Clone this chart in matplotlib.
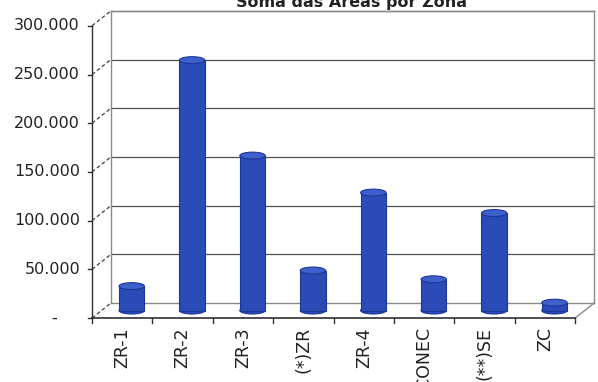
import matplotlib.pyplot as plt
from matplotlib.patches import Ellipse

zonas = ["ZR-1", "ZR-2", "ZR-3", "(*)ZR", "ZR-4", "CONEC", "(**)SE", "ZC"]
valores = [25000, 257000, 159000, 41000, 121000, 32000, 100000, 8000]
yticks = [0, 50000, 100000, 150000, 200000, 250000, 300000]
titulo = "Soma das Áreas por Zona"

W, H = 598, 382
PX_X = 60.4        # pixels per category
PX_Y = 0.000974    # pixels per unit of value
X0, Y0 = 92, 318   # front-left-bottom corner in pixels
DX, DY = 19 / PX_X, 15 / PX_Y   # depth of the pseudo 3D box
YMAX = yticks[-1]
n = len(zonas)

fig = plt.figure(figsize=(W / 100, H / 100), dpi=100)
ax = fig.add_axes([0, 0, 1, 1])
ax.set_xlim(-X0 / PX_X, (W - X0) / PX_X)
ax.set_ylim(-(H - Y0) / PX_Y, Y0 / PX_Y)
ax.axis("off")

grid = "#505050"
edge = "#8a8a8a"

# back wall and its gridlines
for v in yticks[1:]:
    ax.plot([DX, n + DX], [v + DY, v + DY], color=grid, lw=0.9, zorder=1)
ax.plot([DX, n + DX], [YMAX + DY, YMAX + DY], color=edge, lw=1.0, zorder=1)
ax.plot([DX, DX], [DY, YMAX + DY], color=edge, lw=1.0, zorder=1)
ax.plot([n + DX, n + DX], [DY, YMAX + DY], color=edge, lw=1.0, zorder=1)

# left wall: front axis plus slanted tick lines
ax.plot([0, 0], [0, YMAX], color="#303030", lw=1.0, zorder=1)
for v in yticks:
    ax.plot([0, DX], [v, v + DY], color="#404040", lw=0.9, ls=(0, (3, 2)), zorder=1)
    ax.plot([-4 / PX_X, 0], [v, v], color="#303030", lw=1.0, zorder=1)

# floor
ax.plot([DX, n + DX], [DY, DY], color=edge, lw=1.0, zorder=1)
ax.plot([0, n], [0, 0], color="#303030", lw=1.2, zorder=4)
ax.plot([n, n + DX], [0, DY], color=edge, lw=1.0, zorder=1)
for i in range(n + 1):
    ax.plot([i, i], [0, -5 / PX_Y], color="#303030", lw=1.0, zorder=4)

# y labels (0 is shown as a dash)
for v in yticks:
    txt = "-" if v == 0 else f"{v:,}".replace(",", ".")
    xpos = -35 / PX_X if v == 0 else -12 / PX_X
    ax.text(xpos, v, txt, ha="right", va="center", fontsize=11.5,
            color="#222222", family="DejaVu Sans")

# cylinders
bw = 0.42
cap = 7 / PX_Y
base = DY / 2
face = "#2a4bb8"
for i, v in enumerate(valores):
    xc = i + 0.5 + DX / 2
    ax.bar(xc, v, bottom=base, width=bw, color=face, edgecolor="#1d3796",
           lw=0.8, zorder=3)
    ax.add_patch(Ellipse((xc, base), bw, cap, facecolor=face,
                         edgecolor="#1d3796", lw=0.8, zorder=2.9))
    ax.add_patch(Ellipse((xc, base + v), bw, cap, facecolor="#3d60cc",
                         edgecolor="#1d3796", lw=0.8, zorder=3.1))

# category labels
for i, z in enumerate(zonas):
    ax.text(i + 0.5, -9 / PX_Y, z, rotation=90, ha="center", va="top",
            fontsize=12.5, color="#222222", family="DejaVu Sans")

ax.text((351 - X0) / PX_X, (Y0 - 7) / PX_Y, titulo, ha="center",
        va="baseline", fontsize=11.5, fontweight="bold", color="#222222")

fig.savefig("out.png", dpi=100)
